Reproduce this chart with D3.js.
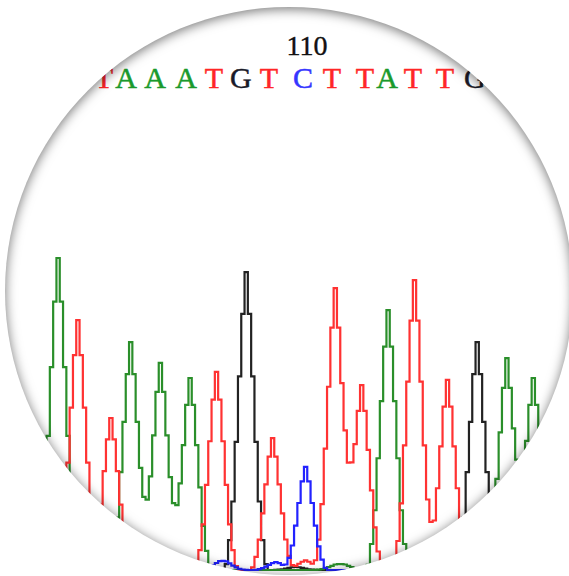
<!DOCTYPE html>
<html>
<head>
<meta charset="utf-8">
<script src="https://cdnjs.cloudflare.com/ajax/libs/d3/7.8.5/d3.min.js"></script>
<style>
  html, body { margin: 0; padding: 0; background: #fff; overflow: hidden; }
</style>
</head>
<body>
<svg id="chart" width="569" height="576"></svg>
<script>
(function() {

  // main peaks, one per base, in scan units
  const peakBases   = ["A", "T", "T", "A", "A", "A", "T", "G", "T", "C", "T", "T", "A", "T", "T", "G", "A", "A"];
  const peakScans   = [17, 23, 33, 39, 48, 57, 65, 74, 82, 92, 101, 109, 117, 125, 135, 144, 153, 161];
  const peakHeights = [975, 781, 475, 712, 647, 600, 619, 931, 412, 322, 881, 578, 812, 906, 594, 712, 662, 600];

  // small background bumps near the baseline
  const noiseBases   = ["C", "C", "C", "T", "A", "A", "G"];
  const noiseScans   = [66, 68, 83, 92, 101, 104, 89];
  const noiseHeights = [18, 15, 25, 30, 12, 12, 10];

  // shape of one peak
  const peakShape = [0.02, 0.1, 0.23, 0.43, 0.65, 0.86, 1, 0.86, 0.65, 0.43, 0.23, 0.1, 0.02];

  // base calls printed above the traces
  const callBases = ["T", "A", "A", "A", "T", "G", "T", "C", "T", "T", "A", "T", "T", "G"];
  const callScans = [30.9, 37.6, 46.4, 55.8, 64.2, 72.4, 80.9, 91.2, 100.0, 110.0, 116.7, 124.5, 134.2, 143.3];

  const tickLabels = ["110"];
  const tickScans  = [92.4];

  const channels = ["G", "A", "T", "C"];
  const traceColors  = { A: "#2b8f2b", C: "#2020ff", G: "#222222", T: "#ff3030" };
  const letterColors = { A: "#1a9a2c", C: "#3535ff", G: "#1a1a28", T: "#ff2626" };

  const W = 569, H = 576;
  const NSCANS = 171;
  const circle = { x: 289, y: 291, r: 284 };

  const x = d3.scaleLinear().domain([0, 170]).range([2, 563]);
  const y = d3.scaleLinear().domain([0, 1000]).range([570, 250]);

  // sum peaks into one trace per channel
  const traces = {};
  channels.forEach(ch => { traces[ch] = new Array(NSCANS).fill(0); });
  function addPeaks(bases, scans, heights) {
    const half = (peakShape.length - 1) / 2;
    bases.forEach((b, k) => {
      peakShape.forEach((s, j) => {
        const i = scans[k] + j - half;
        if (i >= 0 && i < NSCANS) traces[b][i] += heights[k] * s;
      });
    });
  }
  addPeaks(peakBases, peakScans, peakHeights);
  addPeaks(noiseBases, noiseScans, noiseHeights);

  const svg = d3.select("#chart");
  const defs = svg.append("defs");

  defs.append("clipPath").attr("id", "round")
    .append("circle")
    .attr("cx", circle.x).attr("cy", circle.y).attr("r", circle.r);

  const soft = defs.append("filter").attr("id", "soft");
  soft.append("feGaussianBlur").attr("stdDeviation", 0.55);

  // inner shadow along the edge of the disc
  const inset = defs.append("filter").attr("id", "inset")
    .attr("x", "-10%").attr("y", "-10%").attr("width", "120%").attr("height", "120%");
  inset.append("feComponentTransfer").attr("in", "SourceAlpha").attr("result", "inv")
    .append("feFuncA").attr("type", "table").attr("tableValues", "1 0");
  inset.append("feGaussianBlur").attr("in", "inv").attr("stdDeviation", 6).attr("result", "blur");
  inset.append("feOffset").attr("in", "blur").attr("dx", 0).attr("dy", 2).attr("result", "off");
  inset.append("feFlood").attr("flood-color", "#000").attr("flood-opacity", 0.55).attr("result", "col");
  inset.append("feComposite").attr("in", "col").attr("in2", "off").attr("operator", "in").attr("result", "sh");
  inset.append("feComposite").attr("in", "sh").attr("in2", "SourceAlpha").attr("operator", "in");

  svg.append("rect").attr("width", W).attr("height", H).attr("fill", "#fff");

  const g = svg.append("g").attr("clip-path", "url(#round)");

  const line = d3.line()
    .x((d, i) => x(i))
    .y(d => y(d))
    .curve(d3.curveStep);

  const traceLayer = g.append("g").attr("filter", "url(#soft)");
  channels.forEach(ch => {
    traceLayer.append("path")
      .datum(traces[ch])
      .attr("d", line)
      .attr("fill", "none")
      .attr("stroke", traceColors[ch])
      .attr("stroke-width", 2.2)
      .attr("stroke-linejoin", "miter");
  });

  const serif = "'Liberation Serif', 'Times New Roman', serif";

  g.append("g").selectAll("text.call")
    .data(callBases)
    .join("text")
    .attr("class", "call")
    .attr("x", (d, i) => x(callScans[i]))
    .attr("y", 88)
    .attr("text-anchor", "middle")
    .attr("font-family", serif)
    .attr("font-size", 30)
    .attr("fill", d => letterColors[d])
    .attr("stroke", d => letterColors[d])
    .attr("stroke-width", 0.5)
    .text(d => d);

  g.append("g").selectAll("text.tick")
    .data(tickLabels)
    .join("text")
    .attr("class", "tick")
    .attr("x", (d, i) => x(tickScans[i]))
    .attr("y", 55)
    .attr("text-anchor", "middle")
    .attr("font-family", serif)
    .attr("font-size", 28)
    .attr("fill", "#111")
    .attr("stroke", "#111")
    .attr("stroke-width", 0.4)
    .text(d => d);

  svg.append("circle")
    .attr("cx", circle.x).attr("cy", circle.y).attr("r", circle.r)
    .attr("fill", "#fff")
    .attr("filter", "url(#inset)");

})();
</script>
</body>
</html>
